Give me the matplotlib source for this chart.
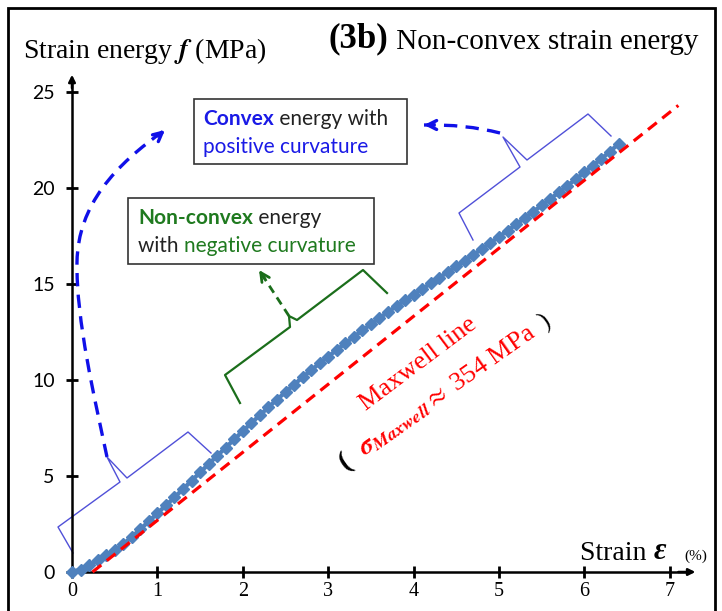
import matplotlib.pyplot as plt
from matplotlib.patches import Rectangle, PathPatch
from matplotlib.path import Path

plt.rcParams['mathtext.fontset'] = 'stix'
SERIF = 'Liberation Serif'
SANS = 'Lato'

# strain (%) and strain energy (MPa)
strain = [0.0, 0.1, 0.2, 0.3, 0.4, 0.5, 0.6, 0.7, 0.8, 0.9,
          1.0, 1.1, 1.2, 1.3, 1.4, 1.5, 1.6, 1.7, 1.8, 1.9,
          2.0, 2.1, 2.2, 2.3, 2.4, 2.5, 2.6, 2.7, 2.8, 2.9,
          3.0, 3.1, 3.2, 3.3, 3.4, 3.5, 3.6, 3.7, 3.8, 3.9,
          4.0, 4.1, 4.2, 4.3, 4.4, 4.5, 4.6, 4.7, 4.8, 4.9,
          5.0, 5.1, 5.2, 5.3, 5.4, 5.5, 5.6, 5.7, 5.8, 5.9,
          6.0, 6.1, 6.2, 6.3, 6.4]
energy = [0.00, 0.13, 0.34, 0.60, 0.86, 1.14, 1.45, 1.83, 2.23, 2.64,
          3.06, 3.47, 3.89, 4.32, 4.75, 5.19, 5.62, 6.05, 6.48, 6.91,
          7.34, 7.76, 8.17, 8.58, 8.98, 9.37, 9.76, 10.14, 10.51, 10.87,
          11.22, 11.57, 11.91, 12.25, 12.58, 12.91, 13.23, 13.54, 13.85, 14.15,
          14.45, 14.74, 15.03, 15.33, 15.62, 15.92, 16.22, 16.52, 16.83, 17.14,
          17.46, 17.78, 18.10, 18.43, 18.76, 19.10, 19.43, 19.77, 20.12, 20.46,
          20.82, 21.17, 21.53, 21.90, 22.30]

# Maxwell line (slope ~3.54 MPa per %)
maxwell_strain = [0.24, 7.1]
maxwell_energy = [0.0, 24.3]

x_ticks = [0, 1, 2, 3, 4, 5, 6, 7]
y_ticks = [0, 5, 10, 15, 20, 25]

W, H = 722, 611
X0, XS = 72, 85.4    # pixel of strain 0, pixels per %
Y0, YS = 572, 19.2   # pixel of energy 0, pixels per MPa


def P(px, py):
    # pixel position in the picture -> data coords
    return ((px - X0) / XS, (Y0 - py) / YS)


fig = plt.figure(figsize=(W / 100, H / 100), dpi=100)
ax = fig.add_axes([0, 0, 1, 1])
ax.set_xlim(P(0, 0)[0], P(W, 0)[0])
ax.set_ylim(P(0, H)[1], P(0, 0)[1])

# frame round the whole picture
fig.patches.append(Rectangle((8 / W, -0.01), (715 - 8) / W, 1.01 - 8 / H,
                             transform=fig.transFigure, fill=False,
                             edgecolor='black', lw=2))

# axes with arrows
for s in ['top', 'right']:
    ax.spines[s].set_visible(False)
ax.spines['left'].set_position(('data', 0))
ax.spines['bottom'].set_position(('data', 0))
ax.spines['left'].set_bounds(0, 25.5)
ax.spines['bottom'].set_bounds(0, 7.2)
ax.spines['left'].set_linewidth(1.8)
ax.spines['bottom'].set_linewidth(1.8)
ax.annotate('', xy=(0, 25.9), xytext=(0, 25.2),
            arrowprops=dict(arrowstyle='-|>', color='k', lw=1.8,
                            mutation_scale=10, shrinkA=0, shrinkB=0))
ax.annotate('', xy=(7.3, 0), xytext=(7.1, 0),
            arrowprops=dict(arrowstyle='-|>', color='k', lw=1.8,
                            mutation_scale=10, shrinkA=0, shrinkB=0))

ax.set_xticks(x_ticks)
ax.set_yticks(y_ticks)
ax.tick_params(direction='inout', length=9, width=2)
ax.tick_params(axis='x', pad=3)
ax.tick_params(axis='y', pad=8)
for t in ax.get_xticklabels():
    t.set_fontfamily(SERIF)
    t.set_fontsize(14.5)
for t in ax.get_yticklabels():
    t.set_fontfamily(SANS)
    t.set_fontsize(14)

# data
ax.plot(strain, energy, color='#4f81bd', lw=3, marker='D', ms=6,
        mec='#4f81bd', zorder=3, clip_on=False)
ax.plot(maxwell_strain, maxwell_energy, color='#ff0000', lw=2.3,
        ls=(0, (3.5, 2.2)), zorder=4)


# braces
def brace(pts, color, lw):
    xs, ys = zip(*[P(*p) for p in pts])
    ax.plot(xs, ys, color=color, lw=lw, zorder=2, clip_on=False)


brace([(73, 553), (58, 527), (120, 482), (107, 457), (127, 478),
       (188, 432), (211, 453)], '#5050d8', 1.0)
brace([(473, 240), (459, 213), (520, 167), (503, 137), (527, 160),
       (588, 114), (611, 136)], '#5050d8', 1.0)
brace([(240, 403), (225, 375), (290, 327), (289, 316), (297, 320),
       (363, 270), (387, 293)], '#1b6e1b', 1.6)


# dashed arrows
def dashed_arrow(verts, codes, color, lw, dash, tail):
    path = Path([P(*v) for v in verts], codes)
    ax.add_patch(PathPatch(path, fill=False, edgecolor=color, lw=lw,
                           ls=dash, capstyle='butt', zorder=2))
    ax.annotate('', xy=P(*verts[-1]), xytext=P(*tail),
                arrowprops=dict(arrowstyle='->', color=color, lw=lw,
                                mutation_scale=16, shrinkA=0, shrinkB=0))


dashed_arrow([(107, 457), (95, 400), (76, 320), (77, 262),
              (78, 205), (115, 165), (165, 130)],
             [Path.MOVETO] + [Path.CURVE4] * 6, '#1010e8', 2.4,
             (0, (4, 2.5)), (158, 136))
dashed_arrow([(500, 133), (465, 124), (424, 125)],
             [Path.MOVETO, Path.CURVE3, Path.CURVE3], '#1010e8', 2.4,
             (0, (4, 2.5)), (434, 125))
dashed_arrow([(289, 316), (259, 270)], [Path.MOVETO, Path.LINETO],
             '#1b6e1b', 2.0, (0, (3, 2)), (265, 279))

# text boxes
for (l, t, r, b) in [(194, 99, 407, 164), (128, 198, 374, 264)]:
    x0, y0 = P(l, b)
    x1, y1 = P(r, t)
    ax.add_patch(Rectangle((x0, y0), x1 - x0, y1 - y0, facecolor='white',
                           edgecolor='#333333', lw=1.2, zorder=5))


def words(px, py, parts, family, **kw):
    prev = None
    for s, c, w, size, *style in parts:
        st = style[0] if style else 'normal'
        if prev is None:
            prev = ax.text(*P(px, py), s, color=c, fontweight=w,
                           fontsize=size, family=family, fontstyle=st,
                           va='baseline', zorder=6, **kw)
        else:
            prev = ax.annotate(s, xy=(1, 0), xycoords=prev, color=c,
                               fontweight=w, fontsize=size, family=family,
                               fontstyle=st, va='bottom', ha='left',
                               zorder=6, **kw)
    return prev


BLUE = '#1a1ae6'
GREEN = '#1f7a1f'
INK = '#222222'
words(203, 125, [('Convex', BLUE, 'bold', 15), (' energy with', INK, 'normal', 15)], SANS)
words(203, 153, [('positive curvature', BLUE, 'normal', 15)], SANS)
words(138, 224, [('Non-convex', GREEN, 'bold', 15), (' energy', INK, 'normal', 15)], SANS)
words(138, 252, [('with ', INK, 'normal', 15), ('negative curvature', GREEN, 'normal', 15)], SANS)

# titles and axis labels
words(329, 47, [('(3b)', 'black', 'bold', 25),
                (' Non-convex strain energy', 'black', 'normal', 21)], SERIF)
ax.text(*P(23, 58), r'Strain energy $\boldsymbol{f}$ (MPa)', fontsize=20,
        family=SERIF, va='baseline')
words(580, 560, [('Strain ', 'black', 'normal', 20),
                 ('ε', 'black', 'bold', 22, 'italic')], SERIF)
ax.text(*P(707, 560), '(%)', fontsize=11, family=SERIF, va='baseline',
        ha='right')

# Maxwell line labels
ax.text(*P(418, 364), 'Maxwell line', color='red', fontsize=19, family=SERIF,
        rotation=37, rotation_mode='anchor', ha='center', va='center')
ax.text(*P(447, 391), r'$\boldsymbol{\sigma}_{\boldsymbol{Maxwell}}\approx$ 354 MPa',
        color='red', fontsize=19, family=SERIF, rotation=35,
        rotation_mode='anchor', ha='center', va='center')
ax.text(*P(345, 462), '(', color='black', fontsize=20, family=SERIF,
        fontweight='bold', rotation=35, rotation_mode='anchor',
        ha='center', va='center')
ax.text(*P(545, 322), ')', color='black', fontsize=18, family=SERIF,
        rotation=35, rotation_mode='anchor', ha='center', va='center')

fig.savefig('out.png', dpi=100)
